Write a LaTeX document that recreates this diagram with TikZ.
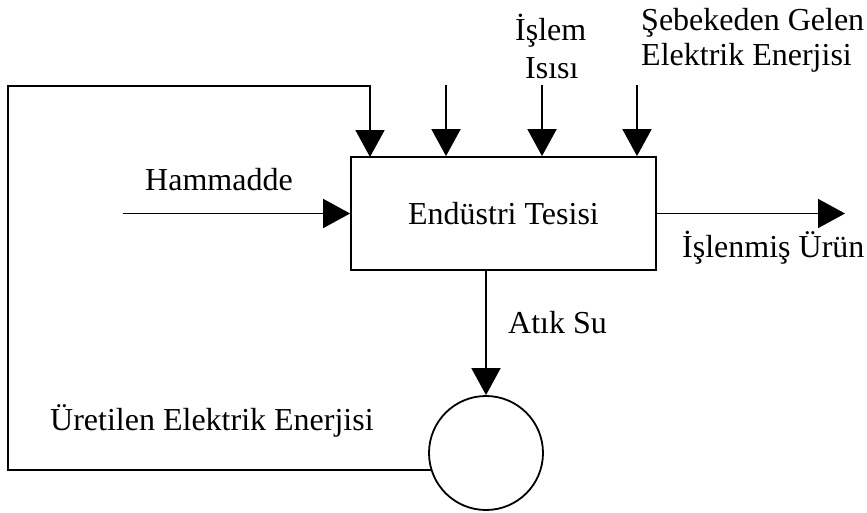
\documentclass[tikz,border=0pt]{standalone}
\usepackage{fontspec}
\setmainfont{Liberation Serif}
\usetikzlibrary{arrows.meta}
\begin{document}
\begin{tikzpicture}[x=1pt,y=-1pt,
  wire/.style={line width=1.8pt},
  flow/.style={wire,-{Triangle[length=27pt,width=29pt]}},
  lbl/.style={anchor=base west,inner sep=0pt,font=\fontsize{32}{36}\selectfont},
  unit/.style={draw,line width=1.8pt,inner sep=0pt}]
\useasboundingbox (0,0) rectangle (867,512);

% plant block and generator
\node[unit,minimum width=305pt,minimum height=113pt,
      font=\fontsize{32}{36}\selectfont] (plant) at (503.5,213.5) {Endüstri Tesisi};
\node[unit,circle,minimum size=114pt] (gen) at (486,453) {};

% free ends of the connectors
\coordinate (in1) at (446,85);
\coordinate (in2) at (542,85);
\coordinate (in3) at (637,85);
\coordinate (raw) at (123,213.5);
\coordinate (prod) at (845,213.5);
\coordinate (fbL) at (8,86);
\coordinate (fbIn) at (370,157);

% inputs from above
\draw[flow] (in1) -- (in1 |- plant.north);
\draw[flow] (in2) -- (in2 |- plant.north);
\draw[flow] (in3) -- (in3 |- plant.north);

% raw material in, product out
\draw[flow] (raw) -- (plant.west);
\draw[flow] (plant.east) -- (prod);

% waste water to generator
\draw[flow] (plant.south -| gen.north) -- (gen.north);

% generated electricity fed back to the plant
\draw[flow] (gen.197) -| (fbL) -| (fbIn);

% labels
\node[lbl] (t1) at (515,40) {İşlem};
\node[lbl] (t2) at (525,78) {Isısı};
\node[lbl] (t3) at (641,30) {Şebekeden Gelen};
\node[lbl] (t4) at (641,65) {Elektrik Enerjisi};
\node[lbl] (t5) at (145,190) {Hammadde};
\node[lbl] (t6) at (682,257) {İşlenmiş Ürün};
\node[lbl] (t7) at (508,333) {Atık Su};
\node[lbl] (t8) at (50,430) {Üretilen Elektrik Enerjisi};
\end{tikzpicture}
\end{document}
